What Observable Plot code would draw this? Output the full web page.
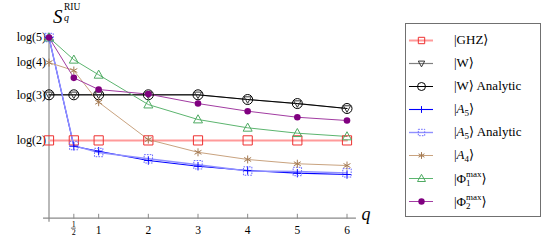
<!DOCTYPE html>
<html>
<head>
<meta charset="utf-8">
<script src="https://cdn.jsdelivr.net/npm/d3@7"></script>
<script src="https://cdn.jsdelivr.net/npm/@observablehq/plot@0.6"></script>
<style>
  body { margin: 0; background: #fff; }
  #wrap { position: relative; width: 557px; height: 251px; background: #fff; font-family: "Liberation Serif", "Times New Roman", "DejaVu Serif", serif; }
  #wrap svg text { font-family: "Liberation Serif", "Times New Roman", "DejaVu Serif", serif !important; }
  #wrap > svg { position: absolute; left: 0; top: 0; }
  #legend { position: absolute; left: 405px; top: 23px; width: 136px; height: 194px; }
  #legend .box { position: absolute; left: 0; top: 0; width: 136px; height: 194px; box-sizing: border-box; border: 1px solid #707070; }
  #legend svg { position: absolute; left: 0; top: 0; }
  .lab { position: absolute; left: 49px; height: 16px; line-height: 16px; font-size: 13px; white-space: nowrap; color: #000; }
  .lab sub { font-size: 9px; vertical-align: -3px; line-height: 0; }
  .stack { display: inline-block; vertical-align: -3px; font-size: 9px; line-height: 9px; text-align: left; }
  .stack span { display: block; }
</style>
</head>
<body>
<div id="wrap">
  <div id="legend"><div class="box"></div></div>
</div>
<script>
// ---------- data ----------
const q = [0, 0.5, 1, 2, 3, 4, 5, 6];
const ghz        = [0.693, 0.693, 0.693, 0.693, 0.693, 0.693, 0.693, 0.693];
const w          = [1.099, 1.099, 1.099, 1.099, 1.099, 1.057, 1.021, 0.977];
const wAnalytic  = [1.099, 1.099, 1.099, 1.099, 1.099, 1.057, 1.021, 0.977];
const a5         = [1.609, 0.641, 0.597, 0.514, 0.463, 0.425, 0.401, 0.389];
const a5Analytic = [1.609, 0.647, 0.585, 0.529, 0.476, 0.420, 0.416, 0.404];
const a4         = [1.386, 1.315, 1.033, 0.700, 0.587, 0.523, 0.485, 0.469];
const phi1       = [1.609, 1.411, 1.277, 1.012, 0.879, 0.805, 0.757, 0.728];
const phi2       = [1.609, 1.250, 1.146, 1.105, 1.021, 0.953, 0.899, 0.870];

const seriesNames = ["GHZ", "W", "W Analytic", "A5", "A5 Analytic", "A4", "Phi1", "Phi2"];
const seriesValues = [ghz, w, wAnalytic, a5, a5Analytic, a4, phi1, phi2];
const seriesLabels = [
  "|GHZ⟩",
  "|W⟩",
  "|W⟩ Analytic",
  "|<i>A</i><sub>5</sub>⟩",
  "|<i>A</i><sub>5</sub>⟩ Analytic",
  "|<i>A</i><sub>4</sub>⟩",
  "|Φ<span class='stack'><span>max</span><span>1</span></span>⟩",
  "|Φ<span class='stack'><span>max</span><span>2</span></span>⟩"
];

const yTickValues = [0.693, 1.099, 1.386, 1.609];
const yTickLabels = ["log(2)", "log(3)", "log(4)", "log(5)"];
const qTickValues = [0.5, 1, 2, 3, 4, 5, 6];
const qTickLabels = ["1/2", "1", "2", "3", "4", "5", "6"];
const yTitle = {base: "S", sup: "RIU", sub: "q"};
const xTitle = "q";
const xAxisExtent = [-0.11, 6.19];
const yAxisExtent = [-0.036, 1.645];

// ---------- symbols ----------
const sym = (f) => ({draw(c, size) { const r = Math.sqrt(size / Math.PI); f(c, r); }});
const squareSym = sym((c, r) => { c.moveTo(-r, -r); c.lineTo(r, -r); c.lineTo(r, r); c.lineTo(-r, r); c.closePath(); });
const triUp = sym((c, r) => { c.moveTo(0, -r * 1.05); c.lineTo(r, r * 0.75); c.lineTo(-r, r * 0.75); c.closePath(); });
const triDown = sym((c, r) => { c.moveTo(0, r * 1.05); c.lineTo(r, -r * 0.75); c.lineTo(-r, -r * 0.75); c.closePath(); });
const plusSym = sym((c, r) => { c.moveTo(-r, 0); c.lineTo(r, 0); c.moveTo(0, -r); c.lineTo(0, r); });
const asterSym = sym((c, r) => {
  for (const a of [90, 30, 150]) {
    const t = a * Math.PI / 180;
    c.moveTo(-r * Math.cos(t), -r * Math.sin(t)); c.lineTo(r * Math.cos(t), r * Math.sin(t));
  }
});
const tickShape = {draw(c, l) { c.moveTo(0, 0); c.lineTo(0, -l); }};

// ---------- styles ----------
const styles = {
  "GHZ":         {line: "#ff9a9a", lw: 2,   sym: squareSym, ms: "#ee3030", mf: "none", r: 4.6, lr: 3.2, dash: null},
  "W":           {line: "#808080", lw: 1.2, sym: triDown,   ms: "#333333", mf: "none", r: 3.6, lr: 3.2, dash: null},
  "W Analytic":  {line: "#000000", lw: 1,   sym: "circle",  ms: "#000000", mf: "none", r: 5.0, lr: 4.0, dash: null},
  "A5":          {line: "#0000ff", lw: 1.1, sym: plusSym,   ms: "#0000ff", mf: "none", r: 4.2, lr: 3.4, dash: null},
  "A5 Analytic": {line: "#9090ff", lw: 1.4, sym: squareSym, ms: "#6a6aff", mf: "none", r: 4.2, lr: 3.2, dash: "1.6,1.2"},
  "A4":          {line: "#c9a37f", lw: 1,   sym: asterSym,  ms: "#a47a52", mf: "none", r: 4.0, lr: 3.4, dash: null},
  "Phi1":        {line: "#5cb56f", lw: 1,   sym: triUp,     ms: "#4eaa62", mf: "none", r: 4.5, lr: 4.0, dash: null},
  "Phi2":        {line: "#a23ca2", lw: 1,   sym: "circle",  ms: "none",    mf: "#800080", r: 3.3, lr: 3.2, dash: null}
};

const rows = seriesNames.map((name, k) => q.map((qq, i) => ({q: qq, v: seriesValues[k][i], name})));

const marks = [];
// axes lines
marks.push(Plot.ruleY([0], {x1: xAxisExtent[0], x2: xAxisExtent[1], stroke: "#8a8a8a", strokeWidth: 1.2}));
marks.push(Plot.ruleX([0], {y1: yAxisExtent[0], y2: yAxisExtent[1], stroke: "#8a8a8a", strokeWidth: 1.2}));
marks.push(Plot.vector(qTickValues, {x: d => d, y: 0, length: 4, anchor: "start", shape: tickShape, stroke: "#8a8a8a", strokeWidth: 1}));
marks.push(Plot.axisY(yTickValues, {label: null, tickSize: 0, tickPadding: 3, fontSize: 12, tickFormat: d => yTickLabels[yTickValues.indexOf(d)], fill: "#000"}));

// x tick labels (lineAnchor middle: baseline = anchor + 0.32em)
const qIdx = qTickValues.map((d, i) => i);
const intIdx = qIdx.filter(i => !qTickLabels[i].includes("/"));
const fracIdx = qIdx.filter(i => qTickLabels[i].includes("/"));
marks.push(Plot.text(intIdx, {x: i => qTickValues[i], y: 0, text: i => qTickLabels[i], dy: 11.9, lineAnchor: "middle", fontSize: 11.5, fill: "#000"}));
marks.push(Plot.text(fracIdx, {x: i => qTickValues[i], y: 0, text: i => qTickLabels[i].split("/")[0], dy: 5.8, lineAnchor: "middle", fontSize: 8, fill: "#000"}));
marks.push(Plot.text(fracIdx, {x: i => qTickValues[i], y: 0, text: i => qTickLabels[i].split("/")[1], dy: 14.4, lineAnchor: "middle", fontSize: 8, fill: "#000"}));
marks.push(Plot.ruleY(fracIdx, {y: 0, x1: i => qTickValues[i], x2: i => qTickValues[i], dy: 9.9, insetLeft: -2.4, insetRight: -2.4, stroke: "#000", strokeWidth: 0.6}));

// series
rows.forEach((data, k) => {
  const s = styles[seriesNames[k]];
  marks.push(Plot.line(data, {x: "q", y: "v", stroke: s.line, strokeWidth: s.lw}));
});
rows.forEach((data, k) => {
  const s = styles[seriesNames[k]];
  marks.push(Plot.dot(data, {x: "q", y: "v", symbol: s.sym, r: s.r, stroke: s.ms, fill: s.mf, strokeWidth: 1, strokeDasharray: s.dash}));
});

// x axis title
marks.push(Plot.text([xTitle], {frameAnchor: "bottom-right", text: d => d, dx: 14.5, dy: -3.5, lineAnchor: "middle", textAnchor: "start", fontSize: 18, fontStyle: "italic", fill: "#000"}));
// y axis title base (sup/sub added as tspans of the same text element)
marks.push(Plot.text([yTitle.base], {frameAnchor: "top-left", text: d => d, dx: 4, dy: -4.6, lineAnchor: "middle", textAnchor: "start", fontSize: 19, fontStyle: "italic", fill: "#000", className: "ytitle"}));

const chart = Plot.plot({
  width: 557,
  height: 251,
  marginLeft: 48.5,
  marginRight: 210.5,
  marginTop: 21.2,
  marginBottom: 33.3,
  x: {domain: [0, 6], axis: null},
  y: {domain: [0, 1.75], axis: null},
  style: {fontFamily: "'Liberation Serif', 'Times New Roman', 'DejaVu Serif', serif", fontSize: "12px", color: "#000", background: "transparent", overflow: "visible"},
  marks
});
const wrap = document.getElementById("wrap");
wrap.insertBefore(chart, wrap.firstChild);

// attach superscript / subscript to the y title text element
const yt = d3.select(chart).select("g.ytitle text");
if (!yt.empty()) {
  const base = yt.text();
  yt.text(null);
  yt.append("tspan").text(base);
  yt.append("tspan").attr("x", 11).attr("y", -7.1).style("font-style", "normal").style("font-size", "9.5px").text(yTitle.sup);
  yt.append("tspan").attr("x", 11).attr("y", 4.0).style("font-size", "10px").text(yTitle.sub);
}

// ---------- legend ----------
const legendMarks = [];
seriesNames.forEach(name => {
  const s = styles[name];
  legendMarks.push(Plot.ruleY([name], {y: d => d, stroke: s.line, strokeWidth: s.lw}));
  legendMarks.push(Plot.dot([name], {y: d => d, frameAnchor: "middle", symbol: s.sym, r: s.lr, stroke: s.ms, fill: s.mf, strokeWidth: 1, strokeDasharray: s.dash}));
});
const legendPlot = Plot.plot({
  width: 136,
  height: 194,
  marginLeft: 4,
  marginRight: 108,
  marginTop: 14.7,
  marginBottom: 13.7,
  x: {axis: null},
  y: {type: "point", domain: seriesNames, padding: 0, axis: null},
  style: {background: "transparent", overflow: "visible"},
  marks: legendMarks
});
const legend = document.getElementById("legend");
legend.appendChild(legendPlot);
const ys = legendPlot.scale("y");
seriesNames.forEach((name, k) => {
  const div = document.createElement("div");
  div.className = "lab";
  div.style.top = (ys.apply(name) - 8.5) + "px";
  div.innerHTML = seriesLabels[k];
  legend.appendChild(div);
});
</script>
</body>
</html>
